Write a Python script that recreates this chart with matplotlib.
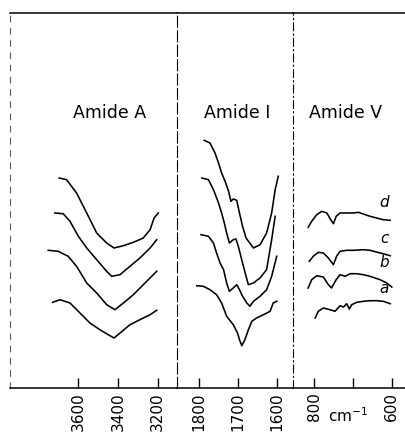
import matplotlib.pyplot as plt

# wavenumbers (cm-1) and transmittance (arbitrary units), curves a..d
amA_d_x = [3694, 3657, 3607, 3556, 3506, 3456, 3419, 3372, 3322, 3272, 3238, 3218, 3197]
amA_d_y = [210, 208.3, 195, 175, 155, 145, 140, 142.3, 145.7, 150, 158.3, 170, 175]
amA_c_x = [3716, 3674, 3640, 3598, 3556, 3506, 3456, 3431, 3389, 3339, 3289, 3238, 3205]
amA_c_y = [175, 174.3, 166.7, 151.7, 140, 128.3, 116.7, 111.7, 113.3, 121.7, 130, 140, 148.3]
amA_b_x = [3749, 3699, 3649, 3607, 3556, 3506, 3456, 3414, 3372, 3322, 3272, 3230, 3205]
amA_b_y = [137.7, 136.7, 131.7, 121.7, 105, 95, 83.3, 78.3, 85, 93.3, 103.3, 111.7, 116.7]
amA_a_x = [3727, 3690, 3640, 3590, 3540, 3490, 3448, 3419, 3389, 3339, 3289, 3238, 3205]
amA_a_y = [85.7, 88.3, 85, 75, 65, 58.3, 53.3, 50, 55, 63.3, 68.3, 73.3, 77.7]

amI_d_x = [1787, 1772, 1759, 1750, 1742, 1733, 1724, 1718, 1712, 1703, 1696, 1688, 1679,
           1660, 1643, 1626, 1613, 1604, 1596]
amI_d_y = [247.7, 245, 235, 225, 215, 206.7, 196.7, 186.7, 189, 187.7, 175, 161.7, 150,
           140, 143.3, 155, 175, 198.3, 211.7]
amI_c_x = [1793, 1776, 1763, 1750, 1742, 1735, 1729, 1722, 1712, 1705, 1699, 1688, 1679,
           1673, 1660, 1643, 1626, 1613, 1604]
amI_c_y = [210, 208.3, 198.3, 185, 175, 165, 155, 145, 148.3, 149, 141.7, 125, 111.7,
           103.3, 105, 110, 118.3, 148.3, 171.7]
amI_b_x = [1795, 1776, 1763, 1755, 1746, 1737, 1729, 1722, 1712, 1703, 1696, 1688, 1677,
           1669, 1660, 1643, 1626, 1613, 1600]
amI_b_y = [153.3, 151.7, 145, 135, 125, 118.3, 105, 96.7, 100, 103.3, 98.3, 91.7, 85,
           81.7, 86.7, 91.7, 98.3, 111.7, 131.7]
amI_a_x = [1806, 1789, 1772, 1755, 1742, 1729, 1712, 1701, 1696, 1690, 1682, 1673, 1664,
           1652, 1634, 1617, 1609, 1600]
amI_a_y = [102.3, 101.7, 98.3, 93.3, 85, 71.7, 63.3, 55, 48.3, 42.3, 48.3, 58.3, 66.7,
           70, 73.3, 76.7, 85, 86.7]

amV_d_x = [815, 806, 793, 780, 767, 757, 750, 743, 733, 716, 699, 686, 673, 656, 639, 622, 604]
amV_d_y = [160.7, 166.7, 173.3, 176.7, 175, 168.3, 164.3, 171.7, 175, 175, 175, 175.7, 174,
           171.7, 170, 168.3, 167.7]
amV_c_x = [812, 802, 789, 776, 763, 750, 742, 733, 716, 699, 673, 656, 630, 604]
amV_c_y = [126.7, 131.7, 135.7, 135, 130, 123.3, 131.7, 136.7, 137.7, 137.7, 138.3, 137.7,
           135, 132.3]
amV_b_x = [815, 806, 793, 776, 763, 755, 743, 733, 720, 707, 690, 673, 656, 630, 613, 600]
amV_b_y = [100, 108.3, 112.3, 111, 103.3, 100, 108.3, 113.3, 111.7, 114.3, 114.3, 113.3,
           111.7, 108.3, 105, 101]
amV_a_x = [797, 789, 776, 759, 746, 733, 724, 716, 709, 703, 690, 673, 656, 639, 622, 604]
amV_a_y = [70, 76.7, 80, 78.3, 76.7, 82.3, 81, 84.3, 79, 83.3, 85.7, 86.7, 87.3, 87.3,
           86.7, 84.3]

curve_labels = ["a", "b", "c", "d"]
label_y = [92.3, 117.7, 142.3, 178.3]

panel_titles = ["Amide A", "Amide I", "Amide V"]
title_x = [3439, 1702, 718]

panels = [
    ((3941, 3103), [3600, 3400, 3200], ["3600", "3400", "3200"],
     [(amA_a_x, amA_a_y), (amA_b_x, amA_b_y), (amA_c_x, amA_c_y), (amA_d_x, amA_d_y)]),
    ((1857, 1558), [1800, 1700, 1600], ["1800", "1700", "1600"],
     [(amI_a_x, amI_a_y), (amI_b_x, amI_b_y), (amI_c_x, amI_c_y), (amI_d_x, amI_d_y)]),
    ((854, 566), [800, 700, 600], ["800", "", "600"],
     [(amV_a_x, amV_a_y), (amV_b_x, amV_b_y), (amV_c_x, amV_c_y), (amV_d_x, amV_d_y)]),
]

W, H = 405, 434
fig = plt.figure(figsize=(W / 100, H / 100), dpi=100)
edges = [10, 177, 293, 405]
bottom, top = 388, 13

axes = []
for i, (xlim, ticks, ticklabels, curves) in enumerate(panels):
    ax = fig.add_axes([edges[i] / W, (H - bottom) / H,
                       (edges[i + 1] - edges[i]) / W, (bottom - top) / H])
    for xs, ys in curves:
        ax.plot(xs, ys, color="black", lw=1.15)
    ax.set_xlim(*xlim)
    ax.set_ylim(0, 375)
    ax.set_yticks([])
    ax.set_xticks(ticks)
    ax.set_xticklabels(ticklabels, rotation=90, fontsize=11)
    ax.tick_params(axis="x", direction="in", length=7, width=1, pad=3)
    ax.text(title_x[i], 275, panel_titles[i], ha="center", va="center", fontsize=12.5)
    ax.spines["right"].set_visible(False)
    for s in ("top", "bottom"):
        ax.spines[s].set_linewidth(1.1)
    axes.append(ax)

axes[0].spines["left"].set_linestyle((0, (5, 6)))
axes[0].spines["left"].set_color("0.35")
axes[1].spines["left"].set_linestyle((0, (10, 3)))
axes[2].spines["left"].set_linestyle((0, (7, 3, 1, 3)))

for lab, ly in zip(curve_labels, label_y):
    axes[2].text(619, ly, lab, fontsize=11, style="italic", ha="center", va="bottom")

axes[2].text(0.49, -0.075, "cm$^{-1}$", transform=axes[2].transAxes, ha="center",
             va="center", fontsize=11)

fig.savefig("out.png", dpi=100)
plt.close(fig)
